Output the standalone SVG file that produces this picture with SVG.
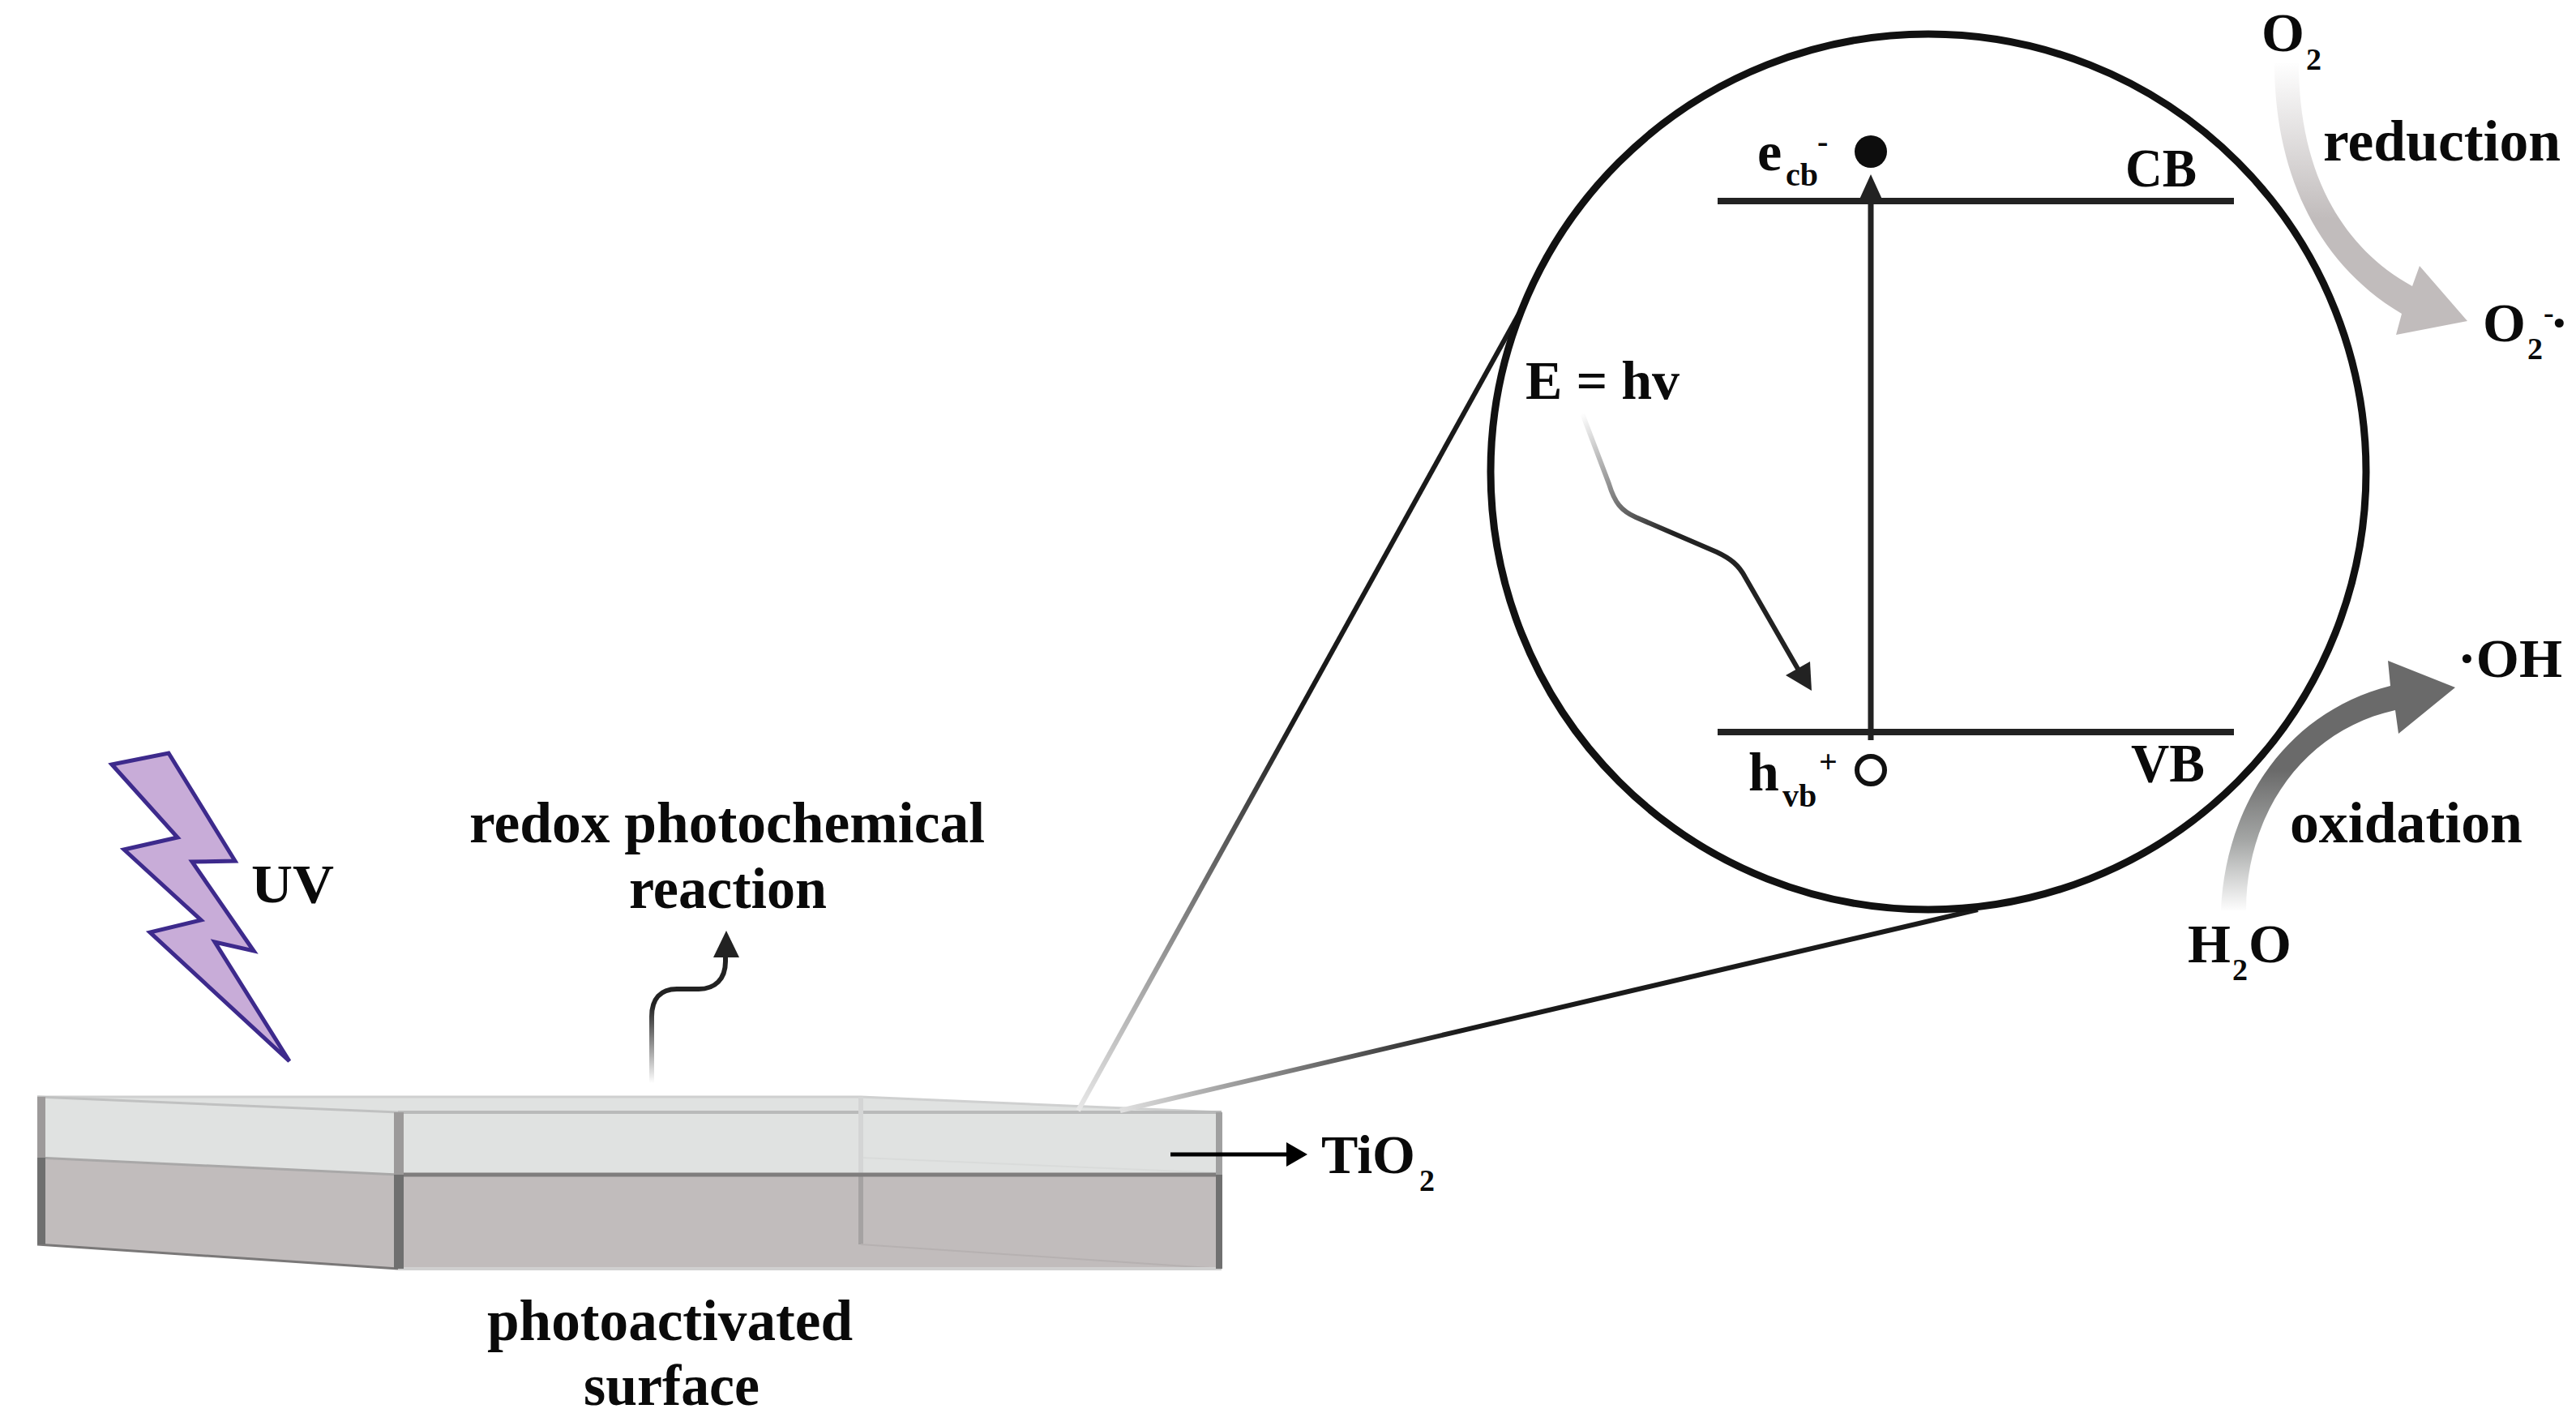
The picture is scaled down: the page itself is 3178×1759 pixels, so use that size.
<svg xmlns="http://www.w3.org/2000/svg" width="3178" height="1759" viewBox="0 0 3178 1759">
<style>
text{font-family:"Liberation Serif","Times New Roman",serif;font-weight:700;font-size:68px;fill:#0a0a0a}
.w{font-size:72px}
.s{font-size:38px}
.ss{font-size:40px}
.band{stroke:#222;stroke-width:8;fill:none}
.lk{stroke:#222;stroke-width:7;fill:none}
</style>
<defs>
<linearGradient id="gRed" gradientUnits="userSpaceOnUse" x1="0" y1="75" x2="0" y2="270"><stop offset="0" stop-color="#fff"/><stop offset="1" stop-color="#c1bcbc"/></linearGradient>
<linearGradient id="gOx" gradientUnits="userSpaceOnUse" x1="0" y1="1125" x2="0" y2="950"><stop offset="0" stop-color="#fff"/><stop offset="0.5" stop-color="#a5a7a6"/><stop offset="1" stop-color="#6a6a6a"/></linearGradient>
<linearGradient id="gWave" gradientUnits="userSpaceOnUse" x1="1952" y1="510" x2="2060" y2="660"><stop offset="0" stop-color="#fff"/><stop offset="1" stop-color="#222"/></linearGradient>
<linearGradient id="gUp" gradientUnits="userSpaceOnUse" x1="0" y1="1336" x2="0" y2="1240"><stop offset="0" stop-color="#fff"/><stop offset="1" stop-color="#222"/></linearGradient>
<linearGradient id="gL" gradientUnits="userSpaceOnUse" x1="1330" y1="1370" x2="1600" y2="890"><stop offset="0" stop-color="#e8e8e8"/><stop offset="1" stop-color="#1a1a1a"/></linearGradient>
<linearGradient id="gR" gradientUnits="userSpaceOnUse" x1="1382" y1="1370" x2="1800" y2="1273"><stop offset="0" stop-color="#e0e0e0"/><stop offset="1" stop-color="#1a1a1a"/></linearGradient>
</defs>
<rect width="3178" height="1759" fill="#fff"/>

<g id="tio2-slab">
<polygon points="46,1353 1062,1353 1507,1372 1507,1449 491,1449 46,1428" fill="#e0e2e1"/>
<polygon points="46,1428 491,1449 1507,1449 1507,1565 491,1565 46,1535" fill="#c1bcbc"/>
<path d="M46 1353H1062L1507 1372" fill="none" stroke="#cfd0d0" stroke-width="3"/>
<path d="M46 1353L491 1372" fill="none" stroke="#c0c1c1" stroke-width="3"/>
<path d="M491 1372H1507" fill="none" stroke="#b9baba" stroke-width="4"/>
<path d="M46 1428L491 1449" fill="none" stroke="#a9a8a8" stroke-width="3"/>
<path d="M1062 1428L1507 1447" fill="none" stroke="#d9dbda" stroke-width="2"/>
<rect x="1059" y="1353" width="6" height="96" fill="#d4d5d5"/>
<rect x="1059" y="1449" width="6" height="86" fill="#a5a2a2"/>
<path d="M491 1449H1507" fill="none" stroke="#7f7d7d" stroke-width="5"/>
<path d="M46 1535L491 1565" fill="none" stroke="#7a7878" stroke-width="3"/>
<path d="M1062 1535L1507 1565" fill="none" stroke="#b6b1b1" stroke-width="2"/>
<path d="M491 1565H1507" fill="none" stroke="#d0d0d0" stroke-width="4"/>
<rect x="46" y="1353" width="10" height="75" fill="#9d9a9a"/>
<rect x="46" y="1428" width="10" height="107" fill="#6f6f6f"/>
<rect x="486" y="1372" width="12" height="77" fill="#9c9a9a"/>
<rect x="486" y="1449" width="12" height="116" fill="#6f6f6f"/>
<rect x="1500" y="1372" width="8" height="77" fill="#a0a0a0"/>
<rect x="1500" y="1449" width="8" height="116" fill="#707070"/>
</g>

<g id="connectors">
<path d="M1330 1370L1875 385" stroke="url(#gL)" stroke-width="6" fill="none"/>
<path d="M1382 1370L2440 1122" stroke="url(#gR)" stroke-width="6" fill="none"/>
<path id="wave-arrow" d="M1952 510L1985 597C1992 620 2000 630 2018 638L2118 681C2135 689 2145 697 2153 712L2222 832" stroke="url(#gWave)" stroke-width="6" fill="none"/>
<polygon points="2235,852 2233,816 2203,833" fill="#222"/>
<path d="M2308 913V240" class="lk"/>
<polygon points="2308,215 2323,248 2293,248" fill="#222"/>
<path d="M804 1336V1254C804 1232 815 1220 835 1220H862C882 1220 895 1208 895 1186V1176" stroke="url(#gUp)" stroke-width="6" fill="none"/>
<polygon points="896,1148 912,1181 880,1181" fill="#222"/>
<path d="M1444 1424H1590" stroke="#000" stroke-width="5" fill="none"/>
<polygon points="1613,1424 1587,1409 1587,1439" fill="#000"/>
<path id="reduction-arrow" d="M2806 78C2806 200 2850 320 2963 387L2956 413L3044 396L2985 328L2976 353C2880 300 2836 200 2836 78Z" fill="url(#gRed)"/>
<path id="oxidation-arrow" d="M2740 1123C2745 1000 2815 880 2949 846L2946 815L3029 848L2959 905L2955 876C2845 900 2771 1000 2771 1123Z" fill="url(#gOx)"/>
</g>

<g id="uv-bolt">
<polygon points="138,943 208,929 290,1062 237,1063 313,1173 265,1162 357,1309 185,1150 248,1135 153,1048 219,1033" fill="#c8acd8" stroke="#3d2a8c" stroke-width="5"/>
<text x="310" y="1113" textLength="102" lengthAdjust="spacingAndGlyphs">UV</text>
</g>

<g id="zoom-circle">
<circle cx="2379" cy="582" r="540" fill="none" stroke="#111" stroke-width="9"/>
</g>

<g id="cb-band">
<path d="M2119 248H2756" class="band"/>
<text x="2622" y="230" textLength="88" lengthAdjust="spacingAndGlyphs">CB</text>
</g>
<g id="vb-band">
<path d="M2119 903H2756" class="band"/>
<text x="2629" y="964" textLength="91" lengthAdjust="spacingAndGlyphs">VB</text>
</g>
<g id="electron">
<circle cx="2308" cy="187" r="20" fill="#0d0d0d"/>
<text x="2168" y="210">e<tspan class="ss" x="2203" y="229">cb</tspan><tspan class="ss" x="2242" y="188">-</tspan></text>
</g>
<g id="hole">
<circle cx="2308" cy="950" r="17" fill="#fff" stroke="#111" stroke-width="6"/>
<text x="2157" y="975">h<tspan class="ss" x="2199" y="995">vb</tspan><tspan class="ss" x="2244" y="953">+</tspan></text>
</g>
<g id="energy"><text x="1882" y="492" textLength="190" lengthAdjust="spacingAndGlyphs">E = hv</text></g>

<g id="o2"><text x="2790" y="63">O<tspan class="s" x="2845" y="86">2</tspan></text></g>
<g id="reduction"><text class="w" x="2866" y="198" textLength="293" lengthAdjust="spacingAndGlyphs">reduction</text></g>
<g id="superoxide"><text x="3063" y="421">O<tspan class="s" x="3118" y="443">2</tspan><tspan class="s" x="3138" y="398">-</tspan><tspan x="3146" y="421">·</tspan></text></g>
<g id="hydroxyl"><text x="3032" y="835" textLength="129" lengthAdjust="spacingAndGlyphs">·OH</text></g>
<g id="oxidation"><text class="w" x="2825" y="1039" textLength="287" lengthAdjust="spacingAndGlyphs">oxidation</text></g>
<g id="water"><text x="2699" y="1187">H<tspan class="s" x="2754" y="1209">2</tspan><tspan x="2774" y="1187">O</tspan></text></g>
<g id="redox-label">
<text class="w" x="579" y="1039" textLength="636" lengthAdjust="spacingAndGlyphs">redox photochemical</text>
<text class="w" x="776" y="1120" textLength="244" lengthAdjust="spacingAndGlyphs">reaction</text>
</g>
<g id="tio2-label"><text x="1630" y="1447">TiO<tspan class="s" x="1751" y="1469">2</tspan></text></g>
<g id="surface-label">
<text class="w" x="601" y="1653" textLength="451" lengthAdjust="spacingAndGlyphs">photoactivated</text>
<text class="w" x="720" y="1733" textLength="217" lengthAdjust="spacingAndGlyphs">surface</text>
</g>
</svg>
